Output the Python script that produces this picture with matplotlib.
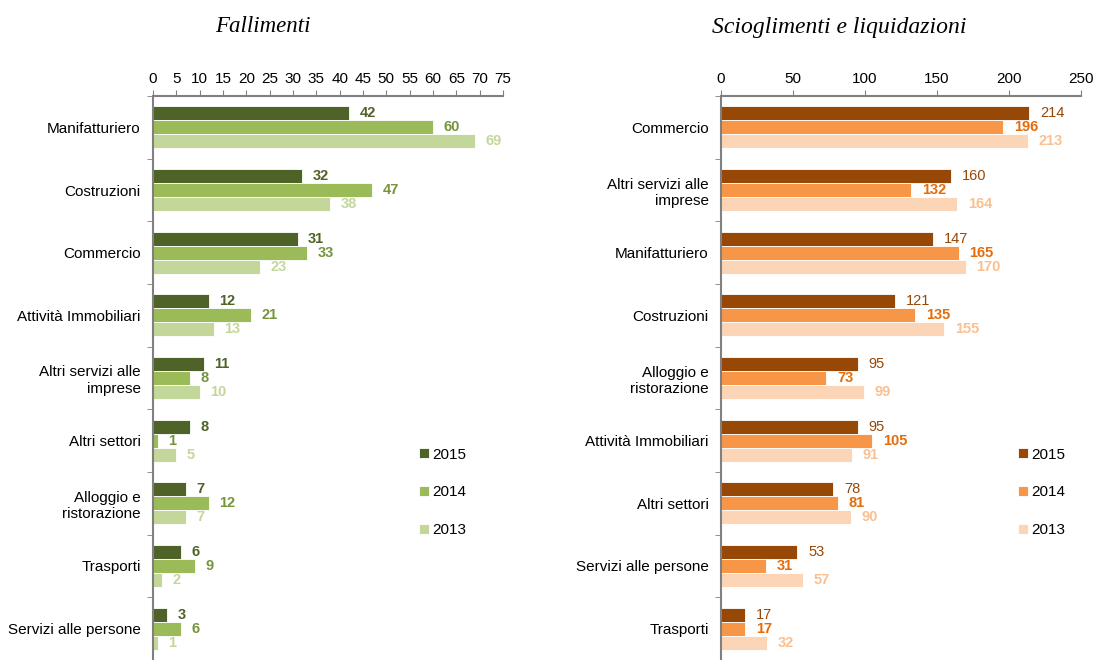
import matplotlib.pyplot as plt
import numpy as np

plt.rcParams['font.family'] = ['Liberation Sans Narrow', 'Liberation Sans', 'DejaVu Sans']

# Fallimenti -------------------------------------------------------------
cat_fall = ['Manifatturiero', 'Costruzioni', 'Commercio', 'Attività Immobiliari',
            'Altri servizi alle\nimprese', 'Altri settori', 'Alloggio e\nristorazione',
            'Trasporti', 'Servizi alle persone']
fall_2015 = [42, 32, 31, 12, 11, 8, 7, 6, 3]
fall_2014 = [60, 47, 33, 21, 8, 1, 12, 9, 6]
fall_2013 = [69, 38, 23, 13, 10, 5, 7, 2, 1]

# Scioglimenti e liquidazioni ------------------------------------------
cat_sciol = ['Commercio', 'Altri servizi alle\nimprese', 'Manifatturiero', 'Costruzioni',
             'Alloggio e\nristorazione', 'Attività Immobiliari', 'Altri settori',
             'Servizi alle persone', 'Trasporti']
sciol_2015 = [214, 160, 147, 121, 95, 95, 78, 53, 17]
sciol_2014 = [196, 132, 165, 135, 73, 105, 81, 31, 17]
sciol_2013 = [213, 164, 170, 155, 99, 91, 90, 57, 32]

years = ['2015', '2014', '2013']

green_bars = ['#4f6228', '#9bbb59', '#c4d79b']
green_text = ['#4f6228', '#77933c', '#c4d79b']
orange_bars = ['#974706', '#f79646', '#fbd5b5']
orange_text = ['#974706', '#e46c0a', '#fac090']


def panel(ax, cats, series, xmax, step, bar_cols, txt_cols, bold, off):
    n = len(cats)
    y = np.arange(n)
    h = 0.222
    for k, vals in enumerate(series):
        yy = y - h + k * h
        ax.barh(yy, vals, height=h, color=bar_cols[k], edgecolor='white',
                linewidth=0.6, label=years[k])
        for yi, v in zip(yy, vals):
            ax.text(v + off, yi, str(v), va='center', ha='left', fontsize=10.5,
                    color=txt_cols[k], fontweight='bold' if bold[k] else 'normal')
    ax.set_xlim(0, xmax)
    ax.set_ylim(n - 0.5, -0.5)
    ax.set_xticks(np.arange(0, xmax + 1, step))
    ax.xaxis.tick_top()
    ax.tick_params(axis='x', length=4, color='#808080', labelsize=11, pad=3)
    ax.set_yticks(y)
    ax.set_yticklabels(cats, fontsize=11)
    ax.tick_params(axis='y', which='major', length=0, pad=9)
    ax.set_yticks(np.arange(n + 1) - 0.5, minor=True)
    ax.tick_params(axis='y', which='minor', length=4, color='#808080')
    for s in ['right', 'bottom']:
        ax.spines[s].set_visible(False)
    for s in ['left', 'top']:
        ax.spines[s].set_color('#808080')
        ax.spines[s].set_linewidth(1.5)


fig = plt.figure(figsize=(10.96, 6.6), dpi=100)
ax1 = fig.add_axes([153 / 1096, 0, 350 / 1096, 1 - 96 / 660])
ax2 = fig.add_axes([721 / 1096, 0, 360 / 1096, 1 - 96 / 660])

panel(ax1, cat_fall, [fall_2015, fall_2014, fall_2013], 75, 5,
      green_bars, green_text, [True, True, True], 2.2)
panel(ax2, cat_sciol, [sciol_2015, sciol_2014, sciol_2013], 250, 50,
      orange_bars, orange_text, [False, True, True], 7.5)

for ax, x0 in [(ax1, 411 / 1096), (ax2, 1010 / 1096)]:
    ax.legend(loc='upper left', bbox_to_anchor=(x0, 1 - 440 / 660),
              bbox_transform=fig.transFigure, frameon=False, fontsize=11,
              handlelength=0.65, handleheight=0.65, handletextpad=0.25,
              labelspacing=1.55, borderpad=0)

fig.text(263 / 1096, 1 - 27 / 660, 'Fallimenti', ha='center', va='center',
         family='Liberation Serif', style='italic', fontsize=16.5)
fig.text(839 / 1096, 1 - 27 / 660, 'Scioglimenti e liquidazioni', ha='center',
         va='center', family='Liberation Serif', style='italic', fontsize=17)

fig.savefig('out.png', dpi=100)
